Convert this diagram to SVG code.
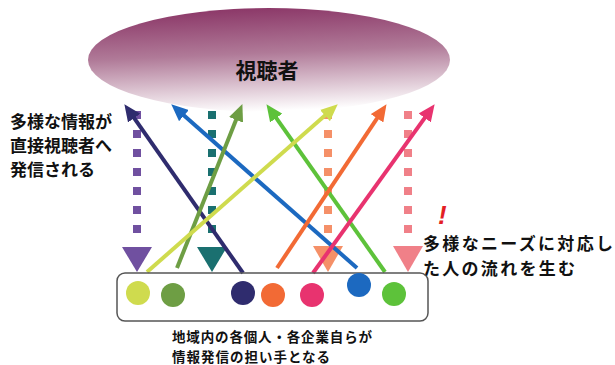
<svg xmlns="http://www.w3.org/2000/svg" width="615" height="365" viewBox="0 0 615 365">
<style>
.lbl{font-family:"Noto Sans CJK JP","Noto Sans",sans-serif;font-weight:bold;fill:#111}
.sol{stroke-width:4;fill:none;stroke-linecap:butt}
.dash{stroke-width:8;stroke-dasharray:8 11;fill:none}
.box{fill:none;stroke:#555;stroke-width:1.5}
</style>
<defs>
<linearGradient id="g" x1="0.3" y1="0" x2="0.45" y2="1">
<stop offset="0" stop-color="#8a3566"/>
<stop offset="0.45" stop-color="#b07a98"/>
<stop offset="1" stop-color="#ffffff"/>
</linearGradient>
<marker id="mNavy" markerUnits="userSpaceOnUse" markerWidth="17" markerHeight="15" refX="6" refY="7.5" orient="auto"><path d="M0,0 L17,7.5 L0,15 z" fill="#2f2c6e"/></marker>
<marker id="mBlue" markerUnits="userSpaceOnUse" markerWidth="17" markerHeight="15" refX="6" refY="7.5" orient="auto"><path d="M0,0 L17,7.5 L0,15 z" fill="#1c69c0"/></marker>
<marker id="mOlive" markerUnits="userSpaceOnUse" markerWidth="17" markerHeight="15" refX="6" refY="7.5" orient="auto"><path d="M0,0 L17,7.5 L0,15 z" fill="#6e9e44"/></marker>
<marker id="mGreen" markerUnits="userSpaceOnUse" markerWidth="17" markerHeight="15" refX="6" refY="7.5" orient="auto"><path d="M0,0 L17,7.5 L0,15 z" fill="#5dc23a"/></marker>
<marker id="mYellow" markerUnits="userSpaceOnUse" markerWidth="17" markerHeight="15" refX="6" refY="7.5" orient="auto"><path d="M0,0 L17,7.5 L0,15 z" fill="#cfdb4e"/></marker>
<marker id="mOrange" markerUnits="userSpaceOnUse" markerWidth="17" markerHeight="15" refX="6" refY="7.5" orient="auto"><path d="M0,0 L17,7.5 L0,15 z" fill="#f26a35"/></marker>
<marker id="mMagenta" markerUnits="userSpaceOnUse" markerWidth="17" markerHeight="15" refX="6" refY="7.5" orient="auto"><path d="M0,0 L17,7.5 L0,15 z" fill="#e8336f"/></marker>
</defs>
<rect width="615" height="365" fill="#ffffff"/>

<g id="viewers">
<ellipse cx="269" cy="60" rx="181" ry="52" fill="url(#g)"/>
<text class="lbl" x="267" y="78" font-size="21" text-anchor="middle">視聴者</text>
</g>

<g id="label-left">
<text class="lbl" x="10" y="128" font-size="17">多様な情報が</text>
<text class="lbl" x="10" y="152" font-size="17">直接視聴者へ</text>
<text class="lbl" x="10" y="176" font-size="17">発信される</text>
</g>

<g id="label-right">
<text x="438" y="224" font-family="Liberation Sans,sans-serif" font-size="26" font-weight="bold" font-style="italic" fill="#e31e24">!</text>
<text class="lbl" x="423" y="250" font-size="17" textLength="190">多様なニーズに対応し</text>
<text class="lbl" x="423" y="275" font-size="17" textLength="152">た人の流れを生む</text>
</g>

<g id="label-bottom">
<text class="lbl" x="172" y="342" font-size="13.5" textLength="200">地域内の各個人・各企業自らが</text>
<text class="lbl" x="172" y="362" font-size="13.5" textLength="158">情報発信の担い手となる</text>
</g>

<g id="connectors">
<line class="dash" x1="137" y1="111" x2="137" y2="236" stroke="#7050a0"/>
<polygon points="122,247 152,247 137,272" fill="#7050a0"/>
<line class="dash" x1="212" y1="111" x2="212" y2="236" stroke="#1a7070"/>
<polygon points="197,247 227,247 212,272" fill="#1a7070"/>
<line class="dash" x1="328" y1="111" x2="328" y2="236" stroke="#f59068"/>
<polygon points="313,246 343,246 328,272" fill="#f59068"/>
<line class="dash" x1="408" y1="111" x2="408" y2="236" stroke="#f08088"/>
<polygon points="393,246 423,246 408,272" fill="#f08088"/>

<line class="sol" x1="243" y1="273" x2="130.7" y2="113.2" stroke="#2f2c6e" marker-end="url(#mNavy)"/>
<line class="sol" x1="357" y1="268" x2="179.5" y2="111.6" stroke="#1c69c0" marker-end="url(#mBlue)"/>
<line class="sol" x1="177" y1="268" x2="238.3" y2="114.3" stroke="#6e9e44" marker-end="url(#mOlive)"/>
<line class="sol" x1="385" y1="272" x2="272.8" y2="113.2" stroke="#5dc23a" marker-end="url(#mGreen)"/>
<line class="sol" x1="147" y1="272" x2="329.5" y2="111.6" stroke="#cfdb4e" marker-end="url(#mYellow)"/>
<line class="sol" x1="277" y1="268" x2="380.4" y2="113.3" stroke="#f26a35" marker-end="url(#mOrange)"/>
<line class="sol" x1="313" y1="273" x2="428.2" y2="113.1" stroke="#e8336f" marker-end="url(#mMagenta)"/>
</g>

<g id="actors">
<rect class="box" x="117" y="273" width="311" height="48" rx="8"/>
<circle cx="138" cy="293" r="12" fill="#cfdb4e"/>
<circle cx="173" cy="295" r="12" fill="#6e9e44"/>
<circle cx="243" cy="293" r="12" fill="#2f2c6e"/>
<circle cx="273" cy="295" r="12" fill="#f26a35"/>
<circle cx="312" cy="295" r="12" fill="#e8336f"/>
<circle cx="359" cy="285" r="12" fill="#1c69c0"/>
<circle cx="394" cy="294" r="12" fill="#5dc23a"/>
</g>
</svg>
